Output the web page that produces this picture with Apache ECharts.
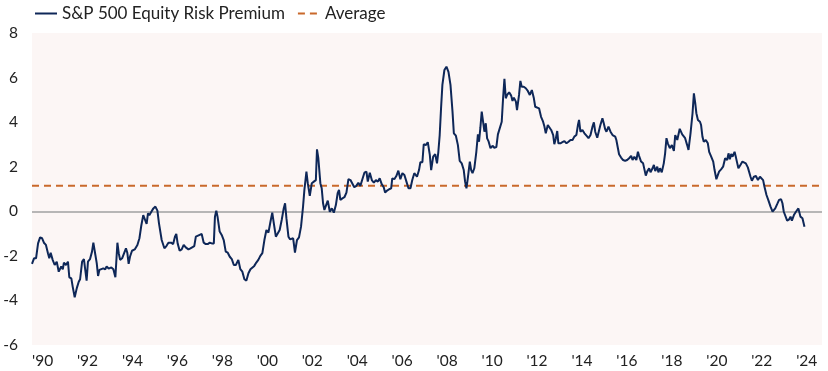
<!DOCTYPE html>
<html>
<head>
<meta charset="utf-8">
<script src="https://cdn.jsdelivr.net/npm/echarts@6/dist/echarts.min.js"></script>
<style>
  html, body { margin: 0; padding: 0; background: #ffffff; }
  #chart { width: 828px; height: 371px; }
</style>
</head>
<body>
<div id="chart"></div>
<script>
// Dates as decimal years
const dates = [
1990.00,1990.09,1990.18,1990.27,1990.36,1990.45,1990.53,1990.62,1990.71,1990.77,1990.83,1990.92,
1991.01,1991.10,1991.19,1991.25,1991.30,1991.37,1991.42,1991.51,1991.60,1991.66,1991.75,1991.81,1991.90,1991.99,
1992.08,1992.14,1992.23,1992.31,1992.37,1992.43,1992.49,1992.58,1992.67,1992.73,1992.82,1992.88,1992.94,
1993.00,1993.08,1993.17,1993.26,1993.32,1993.41,1993.53,1993.62,1993.71,1993.80,1993.86,1993.92,
1994.01,1994.09,1994.18,1994.24,1994.30,1994.36,1994.45,1994.57,1994.69,1994.78,1994.86,1994.95,
1995.02,1995.10,1995.16,1995.22,1995.31,1995.40,1995.49,1995.58,1995.65,1995.77,1995.89,1995.98,
1996.07,1996.19,1996.28,1996.36,1996.42,1996.48,1996.57,1996.66,1996.75,1996.84,1996.96,
1997.05,1997.13,1997.22,1997.29,1997.37,1997.46,1997.55,1997.64,1997.73,1997.82,1997.91,
1998.00,1998.09,1998.14,1998.20,1998.26,1998.35,1998.44,1998.53,1998.62,1998.71,1998.80,1998.89,1998.98,
1999.07,1999.18,1999.27,1999.36,1999.45,1999.54,1999.63,1999.72,1999.80,1999.89,1999.98,
2000.07,2000.16,2000.25,2000.34,2000.43,2000.52,2000.61,2000.69,2000.76,2000.85,2000.93,
2001.02,2001.11,2001.20,2001.26,2001.32,2001.41,2001.48,2001.53,2001.62,2001.70,2001.79,2001.88,2001.97,
2002.06,2002.12,2002.21,2002.27,2002.36,2002.45,2002.54,2002.63,2002.68,2002.74,2002.83,2002.89,2002.95,
2003.01,2003.07,2003.16,2003.25,2003.34,2003.43,2003.52,2003.60,2003.66,2003.72,2003.81,2003.90,2003.99,
2004.08,2004.17,2004.25,2004.34,2004.43,2004.52,2004.61,2004.70,2004.79,2004.88,2004.94,
2005.03,2005.12,2005.21,2005.30,2005.39,2005.47,2005.56,2005.65,2005.71,2005.80,2005.89,2005.98,
2006.03,2006.12,2006.21,2006.30,2006.39,2006.48,2006.57,2006.66,2006.75,2006.84,2006.92,
2007.01,2007.13,2007.22,2007.28,2007.37,2007.43,2007.52,2007.61,2007.70,2007.76,2007.85,2007.94,
2008.02,2008.08,2008.14,2008.20,2008.26,2008.35,2008.44,2008.53,2008.62,2008.71,2008.77,2008.86,2008.95,
2009.03,2009.12,2009.21,2009.27,2009.33,2009.39,2009.48,2009.54,2009.60,2009.68,2009.77,2009.84,2009.89,2009.95,
2010.01,2010.07,2010.13,2010.19,2010.25,2010.31,2010.40,2010.49,2010.57,2010.66,2010.73,2010.81,2010.90,2010.96,
2011.02,2011.08,2011.14,2011.23,2011.32,2011.38,2011.44,2011.53,2011.58,2011.67,2011.73,2011.79,2011.88,2011.97,
2012.06,2012.15,2012.24,2012.33,2012.39,2012.47,2012.56,2012.65,2012.74,2012.80,2012.86,2012.95,
2013.01,2013.10,2013.19,2013.24,2013.31,2013.37,2013.42,2013.51,2013.60,2013.69,2013.78,2013.87,2013.96,
2014.05,2014.13,2014.22,2014.29,2014.34,2014.40,2014.49,2014.58,2014.67,2014.76,2014.85,2014.94,
2015.00,2015.06,2015.15,2015.23,2015.29,2015.38,2015.44,2015.50,2015.56,2015.65,2015.74,2015.83,2015.89,2015.95,
2016.00,2016.07,2016.12,2016.21,2016.30,2016.39,2016.48,2016.57,2016.66,2016.72,2016.80,2016.89,2016.96,
2017.01,2017.10,2017.19,2017.25,2017.31,2017.37,2017.46,2017.52,2017.61,2017.67,2017.73,2017.82,2017.87,2017.94,
2018.02,2018.11,2018.17,2018.23,2018.29,2018.38,2018.47,2018.56,2018.62,2018.71,2018.82,2018.93,
2019.06,2019.15,2019.21,2019.30,2019.39,2019.45,2019.51,2019.56,2019.63,2019.72,2019.77,2019.83,2019.89,2019.98,
2020.07,2020.13,2020.22,2020.31,2020.37,2020.45,2020.52,2020.57,2020.66,2020.75,2020.84,2020.93,2020.99,
2021.05,2021.11,2021.17,2021.26,2021.32,2021.38,2021.43,2021.52,2021.61,2021.67,2021.76,2021.85,2021.91,2021.97,
2022.03,2022.12,2022.21,2022.30,2022.39,2022.47,2022.53,2022.59,2022.68,2022.77,2022.86,2022.95,
2023.01,2023.07,2023.16,2023.24,2023.33,2023.39,2023.45,2023.51,2023.60,2023.69,2023.75,2023.81,2023.90,2023.99,
2024.10,2024.19,2024.28,2024.37
];

// S&P 500 Equity Risk Premium (%)
const premium = [
-2.36,-2.11,-2.11,-1.44,-1.17,-1.21,-1.41,-1.51,-1.88,-2.11,-1.86,-2.18,
-2.41,-2.26,-2.71,-2.78,-2.48,-2.60,-2.30,-2.41,-2.26,-2.96,-3.01,-3.38,-3.86,-3.46,
-3.16,-3.05,-2.26,-2.15,-2.63,-3.11,-2.26,-2.15,-1.81,-1.41,-1.96,-2.33,-2.90,
-2.63,-2.63,-2.56,-2.60,-2.48,-2.57,-2.52,-2.60,-2.96,-1.41,-1.88,-2.18,
-2.11,-2.13,-1.66,-1.86,-2.36,-2.04,-1.77,-1.71,-1.51,-1.21,-0.66,-0.17,
-0.21,-0.57,-0.09,-0.18,-0.02,0.13,0.21,0.03,-0.54,-1.29,-1.66,-1.56,
-1.41,-1.41,-1.47,-1.14,-1.02,-1.44,-1.77,-1.71,-1.51,-1.62,-1.71,
-1.66,-1.59,-1.56,-1.14,-1.21,-1.06,-1.02,-1.41,-1.47,-1.47,-1.41,
-1.44,-1.44,-0.24,0.03,-0.27,-0.91,-1.06,-1.29,-1.81,-1.86,-2.04,-2.15,-2.41,
-2.41,-2.18,-2.60,-2.71,-3.05,-3.11,-2.78,-2.60,-2.63,-2.45,-2.30,
-2.18,-2.00,-1.88,-1.29,-0.84,-0.96,-0.47,-0.06,-0.54,-1.14,-1.21,
-0.84,-0.39,0.13,0.36,-0.31,-1.14,-1.26,-1.21,-1.21,-1.85,-1.29,-1.17,-0.69,
0.21,0.96,1.78,1.26,0.69,1.26,1.33,1.40,2.78,2.38,1.26,1.03,0.36,
0.06,-0.02,0.48,-0.02,0.13,-0.06,0.28,0.81,0.96,0.51,0.58,0.63,0.84,
1.44,1.40,1.40,1.08,1.14,1.28,1.14,1.44,1.73,1.78,1.33,
1.73,1.40,1.28,1.40,1.33,1.48,1.22,1.08,0.84,0.93,0.99,1.03,
1.48,1.44,1.58,1.82,1.44,1.71,1.63,1.33,1.03,1.03,1.40,
1.71,1.55,1.85,2.20,2.20,3.01,2.97,3.10,2.53,1.85,2.45,2.56,
2.15,2.67,3.42,4.62,5.67,6.34,6.49,6.26,5.67,4.47,3.50,3.39,2.97,
2.26,2.15,1.85,1.33,1.03,1.48,2.23,1.85,1.71,1.93,2.67,3.45,3.12,3.75,
4.47,4.02,3.57,3.95,3.27,3.15,2.83,2.94,2.85,2.88,3.45,3.50,4.02,5.07,
5.94,5.07,5.22,5.34,5.19,4.95,5.10,4.92,4.54,5.22,5.85,5.59,5.59,5.52,
5.40,5.22,5.44,5.07,4.69,4.77,4.62,4.24,4.02,3.80,3.50,3.87,
3.84,3.65,3.42,3.01,3.28,3.60,3.05,3.05,3.10,3.15,3.05,3.12,3.20,
3.20,3.35,3.42,3.87,4.10,3.57,3.65,3.50,3.39,3.28,3.42,3.80,
3.99,3.57,3.30,3.30,3.87,4.17,3.95,3.69,3.57,3.80,3.57,3.42,3.45,3.35,
3.20,2.83,2.56,2.41,2.30,2.26,2.30,2.38,2.49,2.30,2.45,2.30,2.67,
2.49,2.23,2.15,2.08,1.60,1.78,1.93,1.75,1.93,2.08,1.81,2.00,1.75,1.93,
1.75,2.15,2.60,3.28,3.05,2.83,2.97,2.71,3.42,3.20,3.70,3.45,
3.28,2.97,2.75,3.50,4.40,5.29,4.85,4.40,4.10,4.02,3.87,3.35,3.12,3.20,
3.05,2.67,2.45,2.23,1.85,1.44,1.40,1.78,1.88,2.00,2.38,2.30,2.60,
2.33,2.57,2.45,2.67,2.42,2.15,1.93,2.08,2.23,2.30,2.15,1.97,1.93,1.55,
1.37,1.55,1.58,1.40,1.55,1.58,1.40,1.10,0.73,0.48,0.21,-0.02,
-0.09,0.13,0.33,0.51,0.54,0.36,-0.02,-0.09,-0.42,-0.36,-0.24,-0.42,-0.17,-0.02,
0.13,-0.24,-0.31,-0.69
];

const averageValue = 1.15;
const seriesNames = ['S&P 500 Equity Risk Premium', 'Average'];
const xMin = 1990, xMax = 2025.15, xStep = 2;
const yMin = -6, yMax = 8, yStep = 2;

const chart = echarts.init(document.getElementById('chart'), null, { renderer: 'canvas' });

const font = 'Lato, "Noto Sans", sans-serif';

chart.setOption({
  animation: false,
  backgroundColor: '#ffffff',
  textStyle: { fontFamily: font },
  legend: {
    data: seriesNames,
    left: 29,
    top: 0,
    itemWidth: 22,
    itemHeight: 14,
    itemGap: 12,
    itemStyle: { opacity: 0 },
    textStyle: { fontFamily: font, fontSize: 17, color: '#222222' }
  },
  grid: {
    left: 32, right: 6, top: 33, bottom: 26,
    show: true, backgroundColor: '#FCF6F5', borderWidth: 0
  },
  xAxis: {
    type: 'value',
    min: xMin, max: xMax, interval: xStep,
    axisLine: { show: false, onZero: false },
    axisTick: { show: false },
    splitLine: { show: false },
    axisLabel: {
      fontFamily: font, fontSize: 15.5, color: '#222222', margin: 8, align: 'left',
      showMaxLabel: false,
      formatter: v => "'" + String(Math.round(v)).slice(2)
    }
  },
  yAxis: {
    type: 'value',
    min: yMin, max: yMax, interval: yStep,
    axisLine: { show: false },
    axisTick: { show: false },
    splitLine: { show: false },
    axisLabel: { fontFamily: font, fontSize: 15.5, color: '#222222', margin: 14 }
  },
  series: [
    {
      name: seriesNames[1],
      type: 'line',
      symbol: 'none',
      z: 2,
      lineStyle: { color: '#C9692B', width: 2, type: [7, 5] },
      itemStyle: { color: '#C9692B' },
      data: [[xMin, averageValue], [xMax, averageValue]]
    },
    {
      name: seriesNames[0],
      type: 'line',
      symbol: 'none',
      z: 3,
      lineStyle: { color: '#0E2758', width: 2 },
      itemStyle: { color: '#0E2758' },
      data: dates.map((d, i) => [d, premium[i]]),
      markLine: {
        silent: true,
        symbol: 'none',
        label: { show: false },
        lineStyle: { color: '#A0A0A0', type: 'solid', width: 1.5 },
        data: [{ yAxis: 0 }],
        z: 1
      }
    }
  ]
});
</script>
</body>
</html>
